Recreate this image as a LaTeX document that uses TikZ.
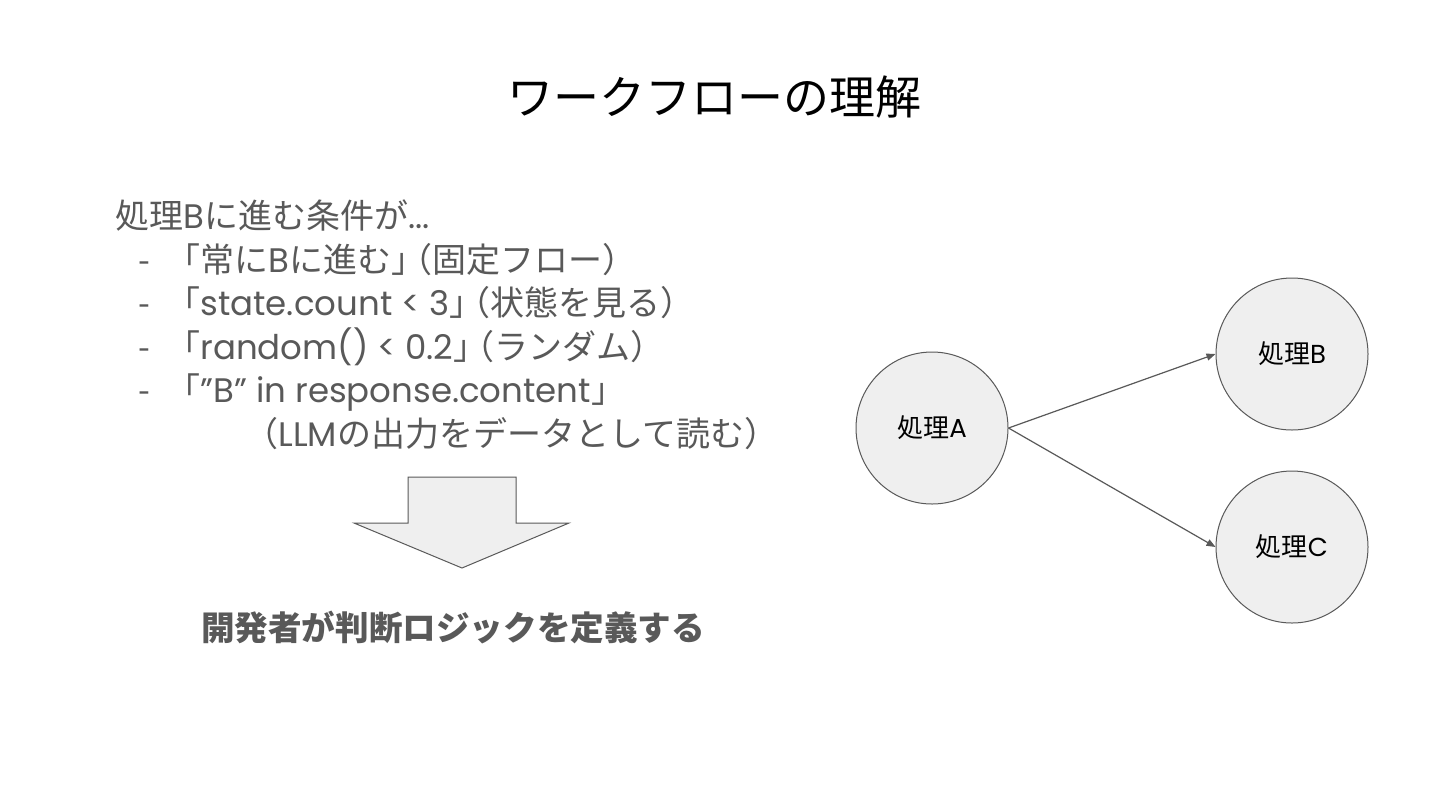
\documentclass[tikz,border=0pt]{standalone}
\usepackage{fontspec}
\setmainfont{Noto Sans CJK JP}
\newfontfamily\latfont{Poppins}
\newcommand{\lat}[1]{{\latfont #1}}
\newcommand{\tgap}{\kern-0.8em}
\usetikzlibrary{arrows.meta}
\definecolor{txtgray}{HTML}{595959}
\definecolor{fillgray}{HTML}{EFEFEF}
\begin{document}
\begin{tikzpicture}[x=0.5pt,y=-0.5pt,
  proc/.style={circle,draw=txtgray,line width=0.5pt,fill=fillgray,minimum size=76pt,inner sep=0pt,font=\fontsize{13}{15}\selectfont,text=black},
  conn/.style={draw=txtgray,line width=0.6pt,-{Triangle[length=4.5pt,width=3.5pt]}},
  body/.style={anchor=base west,inner sep=0pt,text=txtgray,font=\fontsize{17}{20}\selectfont},
  dashmark/.style={anchor=base west,inner sep=0pt,text=txtgray,font=\fontsize{17}{20}\selectfont}]
\useasboundingbox[fill=white] (0,0) rectangle (1440,810);
% title
\node[inner sep=0pt,font=\fontsize{23}{27}\selectfont,text=black] (title) at (714,97) {ワークフローの理解};
% body text
\node[body] (l1) at (115,228) {処理\lat{B}に進む条件が\lat{...}};
\node[dashmark] (d2) at (138,272) {-};
\node[body] (l2) at (166,272) {「常に\lat{B}に進む」\tgap（固定フロー）};
\node[dashmark] (d3) at (138,315) {-};
\node[body] (l3) at (166,315) {「\lat{state.count < 3}」\tgap（状態を見る）};
\node[dashmark] (d4) at (138,359) {-};
\node[body] (l4) at (166,359) {「\lat{random() < 0.2}」\tgap（ランダム）};
\node[dashmark] (d5) at (138,402) {-};
\node[body] (l5) at (166,402) {「\lat{”B” in response.content}」};
\node[body] (l6) at (244,446) {（\lat{LLM}の出力をデータとして読む）};
% block arrow
\draw[draw=txtgray,line width=0.5pt,fill=fillgray]
  (408,477) -- (516,477) -- (516,523) -- (569,523) -- (462,568) -- (354,523) -- (408,523) -- cycle;
% conclusion
\node[inner sep=0pt,font=\fontsize{16.8}{20}\bfseries\selectfont,text=txtgray] (concl) at (453,627) {開発者が判断ロジックを定義する};
% graph
\node[proc] (A) at (932,428) {処理\lat{A}};
\node[proc] (B) at (1292,354) {処理\lat{B}};
\node[proc] (C) at (1292,547) {処理\lat{C}};
\draw[conn] (A.east) -- (B.west);
\draw[conn] (A.east) -- (C.west);
\end{tikzpicture}
\end{document}
